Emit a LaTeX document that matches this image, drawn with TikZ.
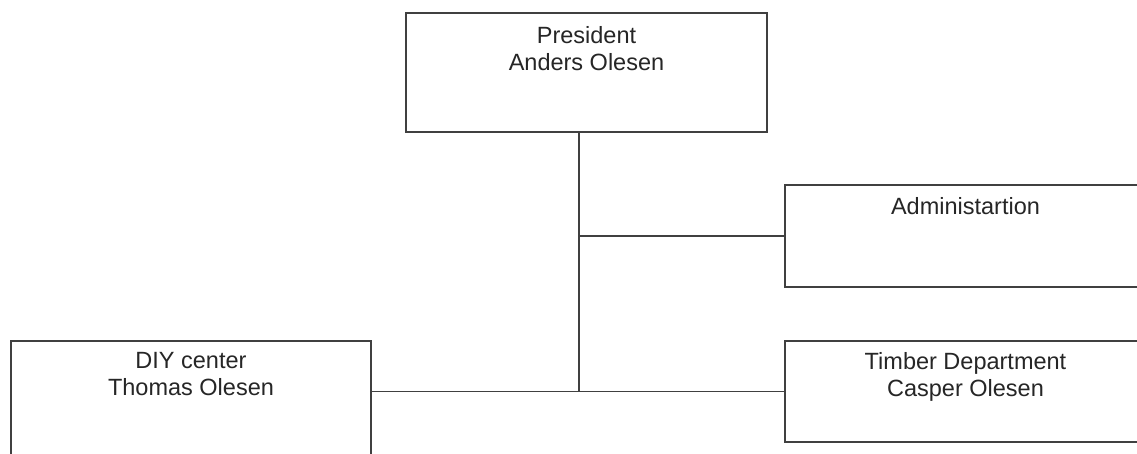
\documentclass[tikz,border=0pt]{standalone}
\usepackage{fontspec}
\setmainfont{Liberation Sans}
\usetikzlibrary{positioning}

\tikzset{
  unit/.style={draw=black!75, line width=1.8pt, fill=white, minimum width=361pt, inner sep=0pt},
  unitname/.style={inner sep=0pt, align=center, text=black!85, font=\fontsize{23.5}{27}\selectfont},
  link/.style={draw=black!75, line width=1.8pt},
}

\begin{document}
\begin{tikzpicture}[x=1pt,y=-1pt]
        \clip (0,0) rectangle (1137,454);
        % boxes
        \node[unit, minimum height=119pt] (pres) at (586.5,72.5) {};
        \node[unit, minimum height=102pt] (adm) at (965.5,236) {};
        \node[unit, minimum height=101pt] (tim) at (965.5,391.5) {};
        \node[unit, minimum width=360pt, minimum height=122pt] (diy) at (191,402) {};
        % names
        \node[unitname, below=14pt of pres.north] (presT) {President\\Anders Olesen};
        \node[unitname, below=13pt of adm.north] (admT) {Administartion};
        \node[unitname, below=12pt of tim.north] (timT) {Timber Department\\Casper Olesen};
        \node[unitname, below=12pt of diy.north] (diyT) {DIY center\\Thomas Olesen};
        % lines
        \coordinate (hub) at (579,391.5);
        \draw[link] (pres.south -| hub) -- (hub);
        \draw[link] (adm.west) -- (adm.west -| hub);
        \draw[link] (diy.east |- tim.west) -- (tim.west);
\end{tikzpicture}
\end{document}
